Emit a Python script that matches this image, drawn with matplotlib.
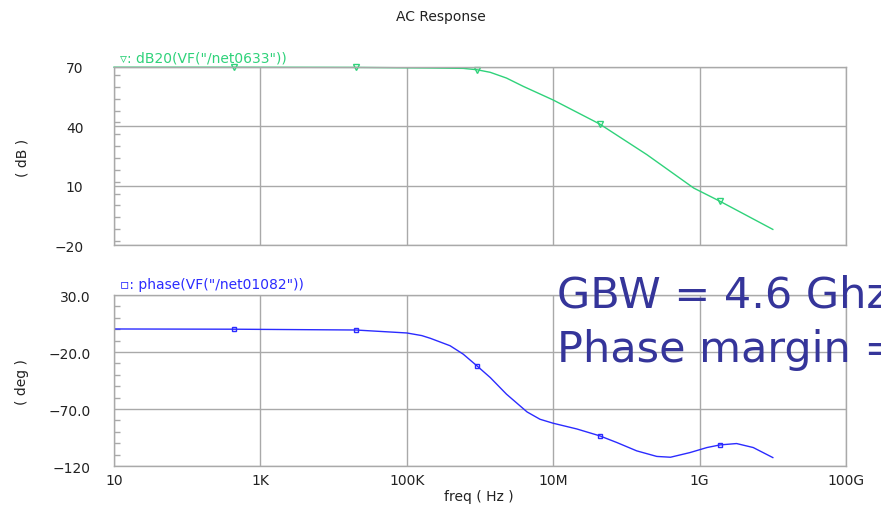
import numpy as np
import matplotlib; matplotlib.use('Agg')
import matplotlib.pyplot as plt
from matplotlib.ticker import FixedLocator, MultipleLocator

# ── data ──────────────────────────────────────────────────────────────
freq_mag = [10, 437, 2.0e4, 2.1e5, 5.9e5, 9.1e5, 1.38e6, 2.3e6, 3.9e6, 1e7,
            4.3e7, 1.9e8, 8.3e8, 1.9e9, 1e10]
mag_db = [69.9, 69.9, 69.8, 69.5, 69.3, 68.6, 67.3, 64.4, 60.2, 53.3,
          41.2, 25.7, 8.8, 2.1, -12.1]
mag_marks = [1, 2, 5, 10, 13]

freq_ph = [10, 437, 2.0e4, 1e5, 1.6e5, 2.1e5, 3.9e5, 5.9e5, 9.1e5, 1.38e6,
           2.3e6, 4.4e6, 6.6e6, 1e7, 2.1e7, 4.3e7, 7.4e7, 1.38e8, 2.6e8,
           4.0e8, 7.4e8, 1.26e9, 1.9e9, 3.2e9, 5.4e9, 1e10]
phase_deg = [0.2, 0.0, -0.7, -3.3, -5.6, -8.0, -14.5, -21.9, -32.2, -42.4,
             -57.0, -72.6, -79.0, -82.5, -87.5, -93.5, -99.4, -106.7, -111.6,
             -112.3, -108.2, -103.8, -101.5, -100.3, -103.8, -112.6]
ph_marks = [1, 2, 8, 15, 22]

xticks = [10, 1e3, 1e5, 1e7, 1e9, 1e11]
xtick_labels = ['10', '1K', '100K', '10M', '1G', '100G']
mag_ticks = [70, 40, 10, -20]
mag_tick_labels = ['70', '40', '10', '\u221220']
ph_ticks = [30.0, -20.0, -70.0, -120]
ph_tick_labels = ['30.0', '\u221220.0', '\u221270.0', '\u2212120']

GRID = '#a9a9a9'
GREEN = '#2fd27a'
BLUE = '#2b2bff'
TXT = '#222222'

fig = plt.figure(figsize=(8.81, 5.10), dpi=100)
ax1 = fig.add_axes([0.1294, 0.5176, 0.8309, 0.3491])
ax2 = fig.add_axes([0.1294, 0.0843, 0.8309, 0.3353])


def style(ax, ticks, labels, lo, hi, minor, pad):
    ax.set_xscale('log')
    ax.set_xlim(10, 1e11)
    ax.set_ylim(lo, hi)
    ax.xaxis.set_major_locator(FixedLocator(xticks))
    ax.xaxis.set_minor_locator(FixedLocator([]))
    ax.yaxis.set_major_locator(FixedLocator(ticks))
    ax.set_yticklabels(labels)
    ax.yaxis.set_minor_locator(MultipleLocator(minor))
    ax.grid(True, which='major', color=GRID, lw=1.0)
    ax.tick_params(which='major', length=0, labelsize=10, labelcolor=TXT)
    ax.tick_params(axis='y', which='major', pad=pad)
    ax.tick_params(which='minor', axis='y', direction='in', length=4,
                   color=GRID, width=1)
    for s in ax.spines.values():
        s.set_color(GRID)
        s.set_linewidth(1.0)
    ax.set_axisbelow(True)


style(ax1, mag_ticks, mag_tick_labels, -20, 70, 6, 22)
ax1.set_xticklabels([])
style(ax2, ph_ticks, ph_tick_labels, -120, 30, 10, 17)
ax2.set_xticklabels(xtick_labels)
ax2.tick_params(axis='x', pad=5)

ax1.plot(freq_mag, mag_db, color=GREEN, lw=1.0, marker='v', ms=5,
         mfc='none', mec=GREEN, mew=1.0, markevery=mag_marks, clip_on=False)
ax2.plot(freq_ph, phase_deg, color=BLUE, lw=1.0, marker='s', ms=3.5,
         mfc='none', mec=BLUE, mew=1.0, markevery=ph_marks)

fig.text(0.136, 0.878, '\u25bf: dB20(VF("/net0633"))', color=GREEN, fontsize=10)
fig.text(0.136, 0.434, '\u25ab: phase(VF("/net01082"))', color=BLUE, fontsize=10)

fig.text(0.5, 0.966, 'AC Response', ha='center', va='center', fontsize=10, color=TXT)
fig.text(0.025, 0.69, '( dB )', rotation=90, ha='center', va='center',
         fontsize=10, color=TXT)
fig.text(0.025, 0.25, '( deg )', rotation=90, ha='center', va='center',
         fontsize=10, color=TXT)
fig.text(0.543, 0.025, 'freq ( Hz )', ha='center', va='center', fontsize=10, color=TXT)

# annotation runs off the right edge, as in the original screenshot
fig.text(0.632, 0.398, 'GBW = 4.6 Ghz', color='#35359a', fontsize=31)
fig.text(0.632, 0.290, 'Phase margin =', color='#35359a', fontsize=31)

fig.savefig('out.png', dpi=100, facecolor='white')
